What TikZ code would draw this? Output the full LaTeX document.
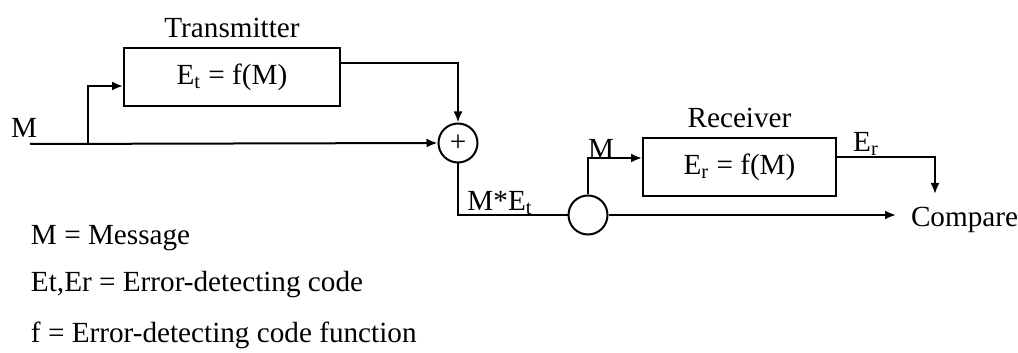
\documentclass[tikz,border=0pt]{standalone}
\usepackage{fontspec}
\setmainfont{Liberation Serif}
\usetikzlibrary{positioning,arrows.meta}

\begin{document}
\begin{tikzpicture}[x=0.5pt,y=-0.5pt,line width=1pt,
  font=\fontsize{14.6}{17}\selectfont,
  >={Latex[length=5.5pt,width=4.5pt]},
  codebox/.style={draw,minimum height=29pt,inner sep=0pt},
  junction/.style={draw,circle,minimum size=19.5pt,inner sep=0pt}]
\useasboundingbox (0,0) rectangle (1018,353);

% Transmitter side
\node[codebox,minimum width=108pt] (tx) at (232,77) {E\textsubscript{t} = f(M)};
\node[above=1pt of tx] (txname) {Transmitter};
\node (min) at (24,128) {M};
\coordinate (start) at (30,144);
\coordinate (split) at (88,144);
\node[junction] (add) at (458,143) {+};

% Receiver side
\node[codebox,minimum width=96.5pt] (rx) at (739.5,167) {E\textsubscript{r} = f(M)};
\node[above=1pt of rx] (rxname) {Receiver};
\node[junction] (mix) at (588,215) {};
\node (mrx) at (601,149) {M};
\node (met) at (500,203) {M*E\textsubscript{t}};
\node (erout) at (866,144) {E\textsubscript{r}};
\coordinate (drop) at (935,157);
\coordinate (ertip) at (935,194);
\coordinate (cmptip) at (896,215);
\node[anchor=west,inner sep=0pt] (cmp) at (910,220) {Compare};

% Connectors
\draw[->] (start) -- (add.west);
\draw[->] (split) |- ([yshift=-4.5pt]tx.west);
\draw[->] ([yshift=7pt]tx.east) -| (add.north);
\draw (add.south) |- (mix.west);
\draw[->] (mix.north) |- ([yshift=4.5pt]rx.west);
\draw[->] ([yshift=5pt]rx.east) -| (drop) -- (ertip);
\draw[->] (mix.east) -- (cmptip);

% Legend
\node[anchor=west,inner sep=0pt] (key1) at (30,238) {M = Message};
\node[anchor=west,inner sep=0pt] (key2) at (30,285) {Et,Er = Error-detecting code};
\node[anchor=west,inner sep=0pt] (key3) at (30,335) {f = Error-detecting code function};
\end{tikzpicture}
\end{document}
